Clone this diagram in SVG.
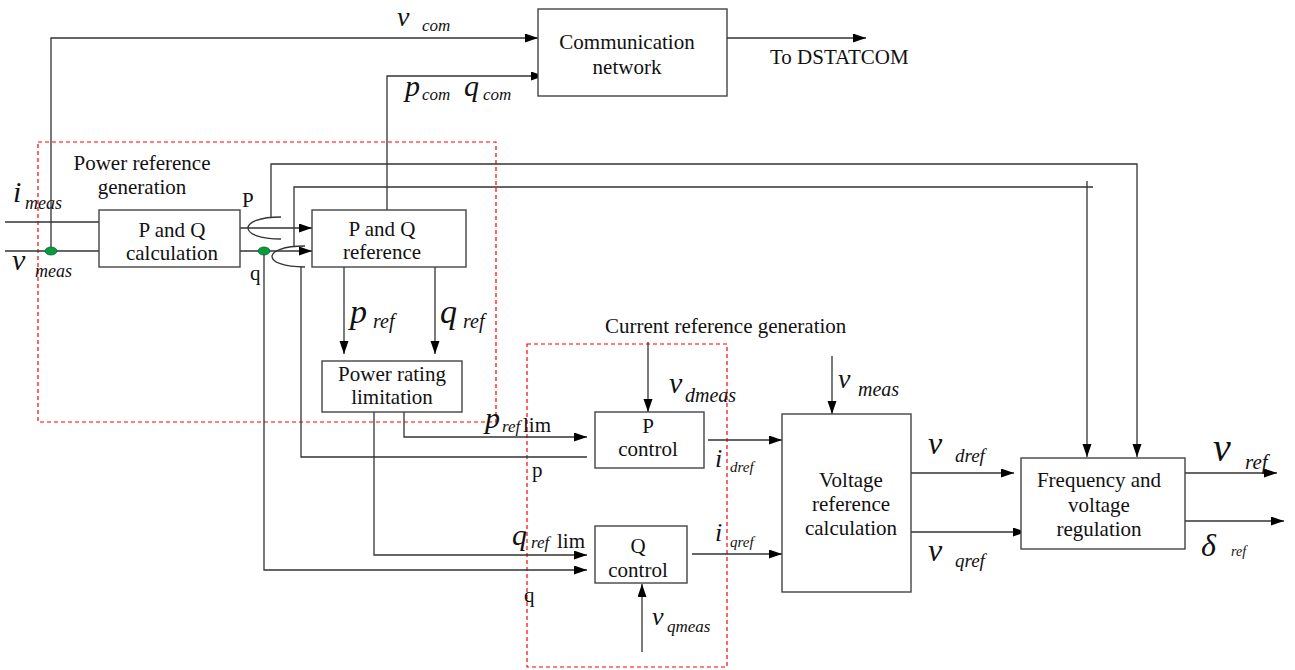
<svg xmlns="http://www.w3.org/2000/svg" width="1295" height="670" viewBox="0 0 1295 670">
<defs>
<marker id="ah" markerUnits="userSpaceOnUse" markerWidth="14" markerHeight="10" refX="13" refY="4.5" orient="auto">
<path d="M0,0 L13,4.5 L0,9 z" fill="#000"/>
</marker>
<style>
.box{fill:#fff;stroke:#444;stroke-width:1.4}
.ln{fill:none;stroke:#333;stroke-width:1.3}
.ar{fill:none;stroke:#333;stroke-width:1.3;marker-end:url(#ah)}
.red{fill:none;stroke:#f00;stroke-width:1.2;stroke-dasharray:4,3}
.t{font-family:"Liberation Serif","Times New Roman",serif;font-size:21px;fill:#111}
.c{text-anchor:middle}
.m{font-family:"Liberation Serif","Times New Roman",serif;font-style:italic;fill:#111}
.dot{fill:#0a9a3a;stroke:#064;stroke-width:0.8}
</style>
</defs>
<rect width="1295" height="670" fill="#fff"/>

<g id="regions">
<rect class="red" x="38" y="142" width="458" height="280"/>
<rect class="red" x="527" y="344" width="200" height="323"/>
<text class="t c" x="142" y="170" font-size="20">Power reference</text>
<text class="t c" x="142" y="194" font-size="20">generation</text>
<text class="t" x="605" y="333">Current reference generation</text>
</g>

<g id="connectors">
<path class="ar" d="M51,251 V38 H538"/>
<path class="ar" d="M727,38 H866"/>
<path class="ar" d="M387,210 V76 H544"/>
<path class="ln" d="M5,222 H99"/>
<path class="ln" d="M5,251 H99"/>
<path class="ar" d="M240,228 H312"/>
<path class="ar" d="M240,251 H312"/>
<path class="ln" d="M281,217 C237,217 237,239 281,239"/>
<path class="ln" d="M305,246 C261,246 261,267 305,267"/>
<path class="ar" d="M271,217 V164 H1137 V457"/>
<path class="ln" d="M294,247 V187 H1093"/>
<path class="ar" d="M1087,181 V457"/>
<path class="ln" d="M301,267 V457 H587"/>
<path class="ar" d="M264,251 V570 H587"/>
<path class="ar" d="M344,267 V354"/>
<path class="ar" d="M435,267 V354"/>
<path class="ar" d="M404,412 V437 H587"/>
<path class="ar" d="M374,412 V555 H587"/>
<path class="ar" d="M648,342 V412"/>
<path class="ar" d="M708,440 H782"/>
<path class="ar" d="M692,554 H782"/>
<path class="ar" d="M642,652 V584"/>
<path class="ar" d="M832,356 V414"/>
<path class="ar" d="M911,473 H1014"/>
<path class="ar" d="M911,532 H1026"/>
<path class="ar" d="M1185,473 H1277"/>
<path class="ar" d="M1185,521 H1284"/>
<ellipse class="dot" cx="51" cy="251" rx="6" ry="4"/>
<ellipse class="dot" cx="264" cy="251" rx="6" ry="4"/>
</g>

<g id="labels">
<text class="m" x="397" y="26" font-size="28">v</text>
<text class="m" x="422" y="31" font-size="17">com</text>
<text class="m" x="405" y="96" font-size="30">p</text>
<text class="m" x="422" y="100" font-size="17">com</text>
<text class="m" x="464" y="96" font-size="30">q</text>
<text class="m" x="483" y="100" font-size="17">com</text>
<text class="m" x="13" y="202" font-size="30">i</text>
<text class="m" x="25" y="209" font-size="18">meas</text>
<text class="m" x="12" y="270" font-size="30">v</text>
<text class="m" x="35" y="277" font-size="18">meas</text>
<text class="t" x="242" y="207">P</text>
<text class="t" x="250" y="280">q</text>
<text class="m" x="350" y="323" font-size="34">p</text>
<text class="m" x="373" y="328" font-size="20">ref</text>
<text class="m" x="440" y="323" font-size="34">q</text>
<text class="m" x="463" y="328" font-size="20">ref</text>
<text class="m" x="485" y="428" font-size="30">p</text>
<text class="m" x="502" y="432" font-size="17">ref</text>
<text class="t" x="523" y="432" font-size="18">lim</text>
<text class="t" x="532" y="477">p</text>
<text class="m" x="512" y="545" font-size="30">q</text>
<text class="m" x="531" y="548" font-size="17">ref</text>
<text class="t" x="557" y="548" font-size="18">lim</text>
<text class="t" x="524" y="602">q</text>
<text class="m" x="669" y="393" font-size="30">v</text>
<text class="m" x="685" y="402" font-size="20">dmeas</text>
<text class="m" x="715" y="467" font-size="26">i</text>
<text class="m" x="730" y="472" font-size="15">dref</text>
<text class="m" x="715" y="541" font-size="26">i</text>
<text class="m" x="730" y="547" font-size="15">qref</text>
<text class="m" x="652" y="625" font-size="26">v</text>
<text class="m" x="667" y="632" font-size="17">qmeas</text>
<text class="m" x="838" y="388" font-size="28">v</text>
<text class="m" x="858" y="396" font-size="20">meas</text>
<text class="m" x="928" y="454" font-size="32">v</text>
<text class="m" x="955" y="462" font-size="19">dref</text>
<text class="m" x="928" y="561" font-size="32">v</text>
<text class="m" x="955" y="567" font-size="19">qref</text>
<text class="m" x="1213" y="461" font-size="40">v</text>
<text class="m" x="1245" y="469" font-size="21">ref</text>
<text class="m" x="1201" y="556" font-size="32">δ</text>
<text class="m" x="1231" y="556" font-size="14">ref</text>
<text class="t" x="770" y="64">To DSTATCOM</text>
</g>

<g id="comm">
<rect class="box" x="538" y="9" width="189" height="87"/>
<text class="t c" x="627" y="49">Communication</text>
<text class="t c" x="627" y="74">network</text>
</g>
<g id="pqcalc">
<rect class="box" x="99" y="210" width="141" height="57"/>
<text class="t c" x="172" y="237">P and Q</text>
<text class="t c" x="172" y="260">calculation</text>
</g>
<g id="pqref">
<rect class="box" x="312" y="210" width="154" height="57"/>
<text class="t c" x="382" y="236">P and Q</text>
<text class="t c" x="382" y="259">reference</text>
</g>
<g id="prl">
<rect class="box" x="322" y="361" width="140" height="51"/>
<text class="t c" x="392" y="381" font-size="20">Power rating</text>
<text class="t c" x="392" y="404" font-size="20">limitation</text>
</g>
<g id="pctrl">
<rect class="box" x="595" y="412" width="109" height="56"/>
<text class="t c" x="648" y="433">P</text>
<text class="t c" x="648" y="456">control</text>
</g>
<g id="qctrl">
<rect class="box" x="595" y="526" width="92" height="57"/>
<text class="t c" x="638" y="553">Q</text>
<text class="t c" x="638" y="577">control</text>
</g>
<g id="vrc">
<rect class="box" x="782" y="414" width="129" height="178"/>
<text class="t c" x="851" y="487">Voltage</text>
<text class="t c" x="851" y="511">reference</text>
<text class="t c" x="851" y="535">calculation</text>
</g>
<g id="fvr">
<rect class="box" x="1021" y="458" width="164" height="91"/>
<text class="t c" x="1099" y="487">Frequency and</text>
<text class="t c" x="1099" y="512">voltage</text>
<text class="t c" x="1099" y="536">regulation</text>
</g>
</svg>
